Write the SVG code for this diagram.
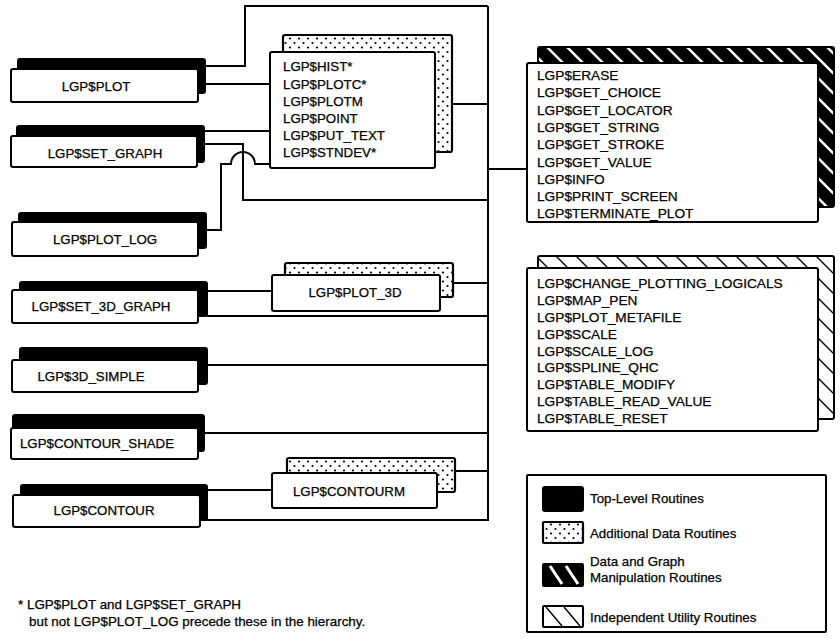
<svg xmlns="http://www.w3.org/2000/svg" width="840" height="639" viewBox="0 0 840 639">
<style>
text{font-family:"Liberation Sans",Arial,Helvetica,sans-serif;font-size:13.3px;fill:#000;stroke:#000;stroke-width:0.25}
.lbl{text-anchor:middle}
.rt{font-size:13.7px}
.foot{font-size:13.4px}
.blk{fill:#000;stroke:#000;stroke-width:2}
.wht{fill:#fff;stroke:#000;stroke-width:2}
.dot{fill:url(#dots);stroke:#000;stroke-width:2.2}
.hd{fill:url(#hatchDark);stroke:#000;stroke-width:2}
.hl{fill:url(#hatchLight);stroke:#000;stroke-width:2}
.conn path{fill:none;stroke:#000;stroke-width:2}
</style>
<defs>
<pattern id="dots" width="9" height="9" patternUnits="userSpaceOnUse">
<rect width="9" height="9" fill="#fff"/>
<circle cx="2" cy="2.5" r="1.1" fill="#000"/>
<circle cx="6.5" cy="7" r="1.1" fill="#000"/>
</pattern>
<pattern id="hatchDark" width="20" height="20" patternUnits="userSpaceOnUse">
<rect width="20" height="20" fill="#000"/>
<path d="M-2,-2 L22,22 M-2,18 L2,22 M18,-2 L22,2" stroke="#fff" stroke-width="2.6"/>
</pattern>
<pattern id="hatchLight" width="20" height="20" patternUnits="userSpaceOnUse">
<rect width="20" height="20" fill="#fff"/>
<path d="M-2,-2 L22,22 M-2,18 L2,22 M18,-2 L22,2" stroke="#000" stroke-width="1.4"/>
</pattern>
</defs>
<rect width="840" height="639" fill="#fff"/>

<g class="conn" id="connectors">
<path d="M488,6 V521"/>
<path d="M205,66 H245 V6 H488"/>
<path d="M205,84 H270"/>
<path d="M204,131 H270"/>
<path d="M204,144 H243 V200 H488"/>
<path d="M206,230 H221 V164 H231 A12,12 0 0 1 255,164 H270"/>
<path d="M452,104 H488"/>
<path d="M488,169 H527"/>
<path d="M207,291 H272"/>
<path d="M453,283 H488"/>
<path d="M207,316 H488"/>
<path d="M207,365 H488"/>
<path d="M204,433 H488"/>
<path d="M207,490 H272"/>
<path d="M455,471 H488"/>
<path d="M200,520 H488"/>
</g>

<g id="n-plot">
<rect class="blk" x="18" y="59" width="187" height="34" rx="2"/>
<rect class="wht" x="11" y="69" width="187" height="33" rx="2"/>
<text class="lbl" x="96" y="91">LGP$PLOT</text>
</g>
<g id="n-set-graph">
<rect class="blk" x="17" y="126" width="187" height="36" rx="2"/>
<rect class="wht" x="11" y="136" width="186" height="31" rx="2"/>
<text class="lbl" x="105" y="158">LGP$SET_GRAPH</text>
</g>
<g id="n-plot-log">
<rect class="blk" x="19" y="213" width="187" height="35" rx="2"/>
<rect class="wht" x="12" y="222" width="186" height="34" rx="2"/>
<text class="lbl" x="105" y="244">LGP$PLOT_LOG</text>
</g>
<g id="n-set-3d-graph">
<rect class="blk" x="20" y="282" width="187" height="34" rx="2"/>
<rect class="wht" x="12" y="290" width="186" height="33" rx="2"/>
<text class="lbl" x="101" y="311">LGP$SET_3D_GRAPH</text>
</g>
<g id="n-3d-simple">
<rect class="blk" x="20" y="348" width="187" height="36" rx="2"/>
<rect class="wht" x="12" y="360" width="186" height="32" rx="2"/>
<text class="lbl" x="91" y="381">LGP$3D_SIMPLE</text>
</g>
<g id="n-contour-shade">
<rect class="blk" x="13" y="415" width="191" height="36" rx="2"/>
<rect class="wht" x="11" y="428" width="187" height="31" rx="2"/>
<text class="lbl" x="97" y="448">LGP$CONTOUR_SHADE</text>
</g>
<g id="n-contour">
<rect class="blk" x="21" y="485" width="186" height="35" rx="2"/>
<rect class="wht" x="13" y="495" width="187" height="32" rx="2"/>
<text class="lbl" x="104" y="515">LGP$CONTOUR</text>
</g>

<g id="n-data-routines">
<rect class="dot" x="283" y="35" width="169" height="117" rx="2"/>
<rect class="wht" x="270" y="52" width="165" height="116" rx="2"/>
<text x="283" y="71">LGP$HIST*</text>
<text x="283" y="89">LGP$PLOTC*</text>
<text x="283" y="106">LGP$PLOTM</text>
<text x="283" y="123">LGP$POINT</text>
<text x="283" y="140">LGP$PUT_TEXT</text>
<text x="283" y="157">LGP$STNDEV*</text>
</g>
<g id="n-plot-3d">
<rect class="dot" x="285" y="263" width="168" height="34" rx="2"/>
<rect class="wht" x="272" y="275" width="168" height="36" rx="2"/>
<text class="lbl" x="355" y="297">LGP$PLOT_3D</text>
</g>
<g id="n-contourm">
<rect class="dot" x="287" y="458" width="168" height="34" rx="2"/>
<rect class="wht" x="272" y="473" width="165" height="35" rx="2"/>
<text class="lbl" x="349" y="496">LGP$CONTOURM</text>
</g>

<g id="n-manipulation">
<rect class="hd" x="538" y="47" width="296" height="160" rx="2"/>
<rect class="wht" x="527" y="63" width="291" height="159" rx="2"/>
<text class="rt" x="537" y="80">LGP$ERASE</text>
<text class="rt" x="537" y="97.3">LGP$GET_CHOICE</text>
<text class="rt" x="537" y="114.6">LGP$GET_LOCATOR</text>
<text class="rt" x="537" y="131.9">LGP$GET_STRING</text>
<text class="rt" x="537" y="149.2">LGP$GET_STROKE</text>
<text class="rt" x="537" y="166.5">LGP$GET_VALUE</text>
<text class="rt" x="537" y="183.8">LGP$INFO</text>
<text class="rt" x="537" y="201.1">LGP$PRINT_SCREEN</text>
<text class="rt" x="537" y="218">LGP$TERMINATE_PLOT</text>
</g>
<g id="n-utility">
<rect class="hl" x="538" y="256" width="296" height="163" rx="2"/>
<rect class="wht" x="527" y="268" width="291" height="163" rx="2"/>
<text class="rt" x="537" y="288">LGP$CHANGE_PLOTTING_LOGICALS</text>
<text class="rt" x="537" y="305">LGP$MAP_PEN</text>
<text class="rt" x="537" y="322">LGP$PLOT_METAFILE</text>
<text class="rt" x="537" y="339">LGP$SCALE</text>
<text class="rt" x="537" y="356">LGP$SCALE_LOG</text>
<text class="rt" x="537" y="372">LGP$SPLINE_QHC</text>
<text class="rt" x="537" y="389">LGP$TABLE_MODIFY</text>
<text class="rt" x="537" y="406">LGP$TABLE_READ_VALUE</text>
<text class="rt" x="537" y="423">LGP$TABLE_RESET</text>
</g>

<g id="legend">
<rect class="wht" x="527" y="475" width="299" height="157" rx="1"/>
<rect class="blk" x="543" y="487" width="40" height="24" rx="2"/>
<text x="590" y="503">Top-Level Routines</text>
<rect class="dot" x="543" y="522" width="40" height="21" rx="1"/>
<text x="590" y="538">Additional Data Routines</text>
<rect class="blk" x="543" y="564" width="40" height="22" rx="1"/>
<path d="M550,566 L562,584 M566,566 L578,584" stroke="#fff" stroke-width="3" fill="none"/>
<text x="590" y="566">Data and Graph</text>
<text x="590" y="582">Manipulation Routines</text>
<rect class="wht" x="543" y="606" width="40" height="21" rx="1"/>
<path d="M546,607 L562,626 M564,607 L580,626" stroke="#000" stroke-width="1.4" fill="none"/>
<text x="590" y="622">Independent Utility Routines</text>
</g>

<g id="footnote">
<text class="foot" x="18" y="609">* LGP$PLOT and LGP$SET_GRAPH</text>
<text class="foot" x="29" y="626">but not LGP$PLOT_LOG precede these in the hierarchy.</text>
</g>
</svg>
